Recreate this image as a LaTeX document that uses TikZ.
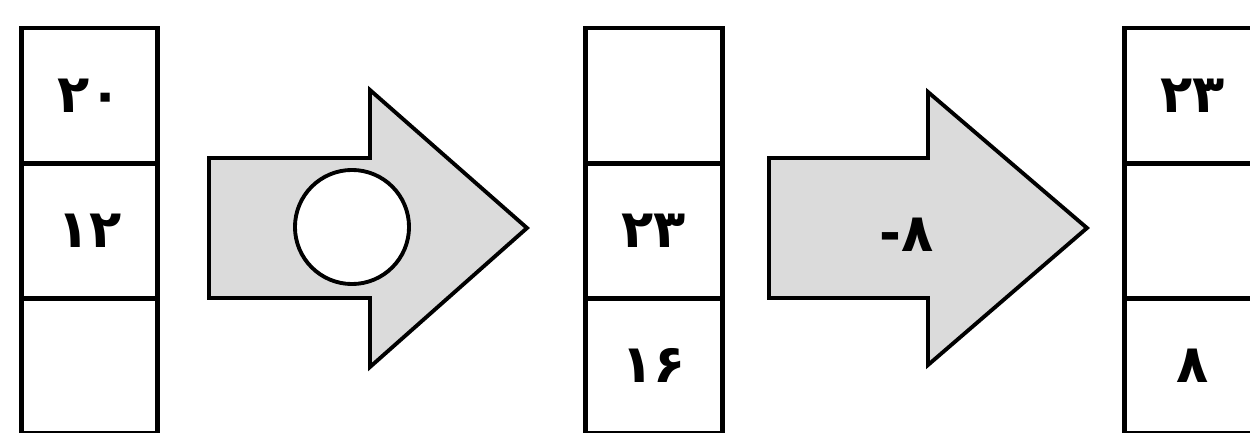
\documentclass[tikz,border=0pt]{standalone}
\usepackage{fontspec}
\newfontfamily\farsifont[Script=Arabic]{DejaVu Sans}
\usetikzlibrary{positioning}

\begin{document}
\begin{tikzpicture}[
    x=0.01cm, y=-0.01cm,
    cell/.style={rectangle, draw=black, line width=1.4pt, minimum width=1.36cm, minimum height=1.35cm, outer sep=0pt, inner sep=0pt, font=\farsifont\bfseries\fontsize{15}{17}\selectfont, text centered},
    blockarrow/.style={draw=black, fill=black!14, line width=1.1pt, line join=miter},
    hole/.style={circle, draw=black, fill=white, line width=1.1pt, minimum size=1.14cm, inner sep=0pt},
    amount/.style={font=\farsifont\bfseries\fontsize{15}{17}\selectfont, inner sep=0pt}
]
    \useasboundingbox (0,0) rectangle (1250,433);
    \clip (0,0) rectangle (1250,433);

    % First table
    \node[cell] at (89.5,95.5) (a1) {۲۰};
    \node[cell, below=0pt of a1] (a2) {۱۲};
    \node[cell, below=0pt of a2] (a3) {};

    % Second table
    \node[cell] at (654,95.5) (b1) {};
    \node[cell, below=0pt of b1] (b2) {۲۳};
    \node[cell, below=0pt of b2] (b3) {۱۶};

    % Third table
    \node[cell] at (1193,95.5) (c1) {۲۳};
    \node[cell, below=0pt of c1] (c2) {};
    \node[cell, below=0pt of c2] (c3) {۸};

    % Block arrows
    \draw[blockarrow] (209,158) -- (370,158) -- (370,90) -- (527,228)
        -- (370,367) -- (370,298) -- (209,298) -- cycle;
    \node[hole] at (352,227) (op) {};

    \draw[blockarrow] (769,158) -- (928,158) -- (928,92) -- (1087,228)
        -- (928,365) -- (928,298) -- (769,298) -- cycle;
    \node[amount] at (907,235) (minus) {\mbox{-}\mbox{۸}};
\end{tikzpicture}
\end{document}
